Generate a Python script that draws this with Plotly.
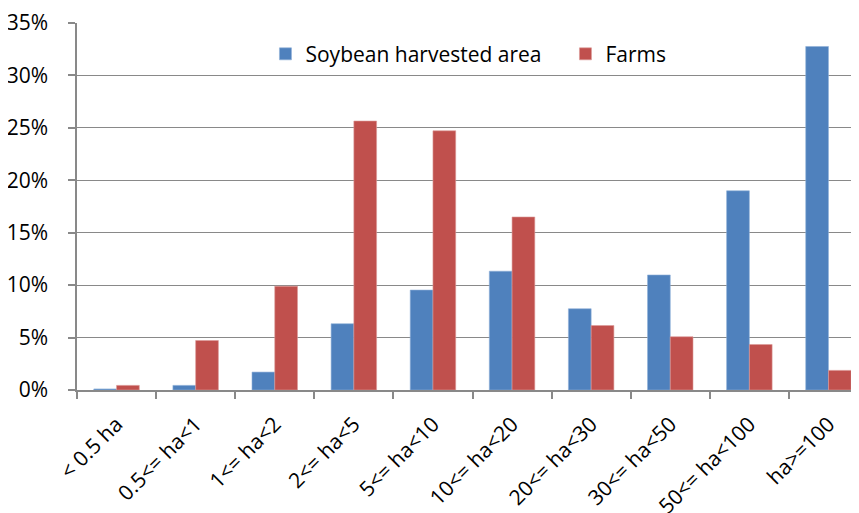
import plotly.graph_objects as go

categories = ["< 0.5 ha", "0.5<= ha<1", "1<= ha<2", "2<= ha<5", "5<= ha<10",
              "10<= ha<20", "20<= ha<30", "30<= ha<50", "50<= ha<100", "ha>=100"]
soybean_area = [0.001, 0.0044, 0.0171, 0.0632, 0.0953, 0.1133, 0.0775, 0.1097, 0.1900, 0.3276]
farms = [0.0044, 0.0472, 0.0990, 0.2565, 0.2472, 0.1650, 0.0615, 0.0508, 0.0434, 0.0187]

FONT = "Open Sans"
grid = "#898989"

fig = go.Figure()
fig.add_trace(go.Bar(x=categories, y=soybean_area, name="Soybean harvested area",
                     marker=dict(color="#4F81BD", line=dict(color="#8fb0d9", width=0.6))))
fig.add_trace(go.Bar(x=categories, y=farms, name="Farms",
                     marker=dict(color="#C0504D", line=dict(color="#dc9a98", width=0.6))))

# page body has an 8px margin, so the figure is drawn 8px smaller and offset
fig.update_layout(
    width=851, height=505,
    margin=dict(l=69, r=0, t=15, b=123, autoexpand=False),
    paper_bgcolor="white", plot_bgcolor="white",
    barmode="group", bargap=0.425, bargroupgap=0,
    font=dict(family=FONT, size=21, color="#000000"),
    showlegend=True,
    legend=dict(orientation="h", x=0.241, xanchor="left", y=0.915, yanchor="middle",
                bgcolor="rgba(0,0,0,0)", font=dict(family=FONT, size=21),
                itemwidth=30, traceorder="normal", entrywidth=255, entrywidthmode="pixels"),
)
fig.update_xaxes(
    type="category", range=[-0.5, 9.386],
    showline=True, linecolor=grid, linewidth=1.5,
    ticks="outside", tickson="boundaries", ticklen=7, tickcolor=grid, tickwidth=1.5,
    tickangle=-45, tickfont=dict(family=FONT, size=21), showgrid=False,
    ticklabelstandoff=12,
)
fig.update_yaxes(
    range=[0, 0.35], tickvals=[0, 0.05, 0.10, 0.15, 0.20, 0.25, 0.30, 0.35],
    tickformat=".0%",
    showline=True, linecolor=grid, linewidth=1.5,
    ticks="outside", ticklen=7, tickcolor=grid, tickwidth=1.5,
    showgrid=True, gridcolor=grid, gridwidth=1.3, zeroline=False,
    tickfont=dict(family=FONT, size=21), ticklabelstandoff=16,
)

fig.write_html("out.html")
